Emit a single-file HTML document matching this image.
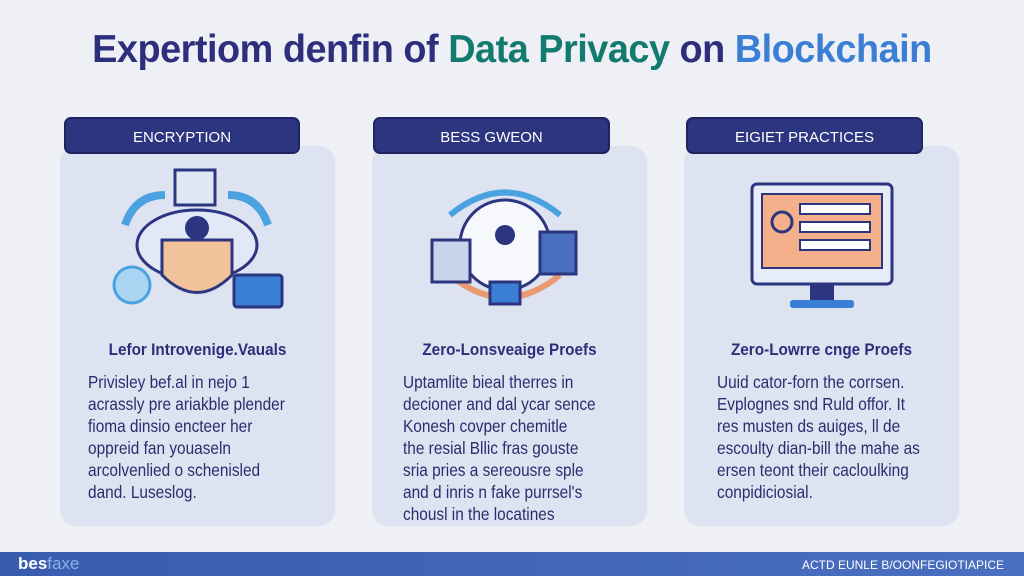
<!DOCTYPE html>
<html><head><meta charset="utf-8"><style>
body{margin:0;width:1024px;height:576px;overflow:hidden;background:#eef0f6;font-family:"Liberation Sans",sans-serif;position:relative}
.t{position:absolute;left:0;width:1024px;top:28px;text-align:center;font-size:39px;font-weight:bold;color:#2e2f7c;letter-spacing:-0.5px;transform:scaleX(0.97);white-space:nowrap}
.card{position:absolute;top:146px;width:275px;height:380px;background:#dde3f1;border-radius:16px}
.pill{position:absolute;top:117px;height:37px;background:#2c3580;border-radius:7px;color:#fff;font-size:15px;text-align:center;line-height:37px;border:2px solid #1e2560;box-sizing:border-box}
.h{position:absolute;top:340px;font-size:17px;font-weight:bold;color:#2c2f78;text-align:center;width:275px;transform:scaleX(0.9)}
.b{position:absolute;top:371px;font-size:17.5px;line-height:22px;color:#2a2d6e;transform:scaleX(0.88);transform-origin:left top;white-space:nowrap}
.bar{position:absolute;left:0;top:552px;width:1024px;height:24px;background:linear-gradient(90deg,#3a5bb0,#4a6fc0)}
</style></head><body>
<div class="t"><span>Expertiom denfin of </span><span style="color:#127a6e">Data Privacy</span><span> on </span><span style="color:#3a7fd4">Blockchain</span></div>

<div class="card" style="left:60px"></div>
<div class="card" style="left:372px"></div>
<div class="card" style="left:684px"></div>
<div class="pill" style="left:64px;width:236px">ENCRYPTION</div>
<div class="pill" style="left:373px;width:237px">BESS GWEON</div>
<div class="pill" style="left:686px;width:237px">EIGIET PRACTICES</div>

<svg style="position:absolute;left:0;top:0" width="1024" height="576">
<path d="M125 225 Q135 195 165 195" stroke="#4aa3e0" stroke-width="8" fill="none"/>
<path d="M268 225 Q258 195 228 195" stroke="#4aa3e0" stroke-width="8" fill="none"/>
<ellipse cx="197" cy="245" rx="60" ry="35" fill="#e2e8f5" stroke="#2c3580" stroke-width="3"/>
<rect x="175" y="170" width="40" height="35" fill="#dfe6f4" stroke="#2c3580" stroke-width="3"/>
<path d="M162 240 L232 240 L232 275 Q197 310 162 275Z" fill="#f2c29a" stroke="#2c3580" stroke-width="3"/>
<circle cx="197" cy="228" r="12" fill="#2c3580"/>
<circle cx="132" cy="285" r="18" fill="#a9d4f2" stroke="#4aa3e0" stroke-width="3"/>
<rect x="234" y="275" width="48" height="32" rx="3" fill="#3a7fd4" stroke="#2c3580" stroke-width="3"/>
<path d="M450 215 Q505 170 560 215" stroke="#4aa3e0" stroke-width="6" fill="none"/>
<path d="M450 275 Q505 320 560 275" stroke="#e99a70" stroke-width="6" fill="none"/>
<circle cx="505" cy="245" r="45" fill="#f7f8fc" stroke="#2c3580" stroke-width="3"/>
<circle cx="505" cy="235" r="10" fill="#2c3580"/>
<rect x="432" y="240" width="38" height="42" fill="#c8d4ec" stroke="#2c3580" stroke-width="3"/>
<rect x="540" y="232" width="36" height="42" fill="#4a6fc0" stroke="#2c3580" stroke-width="3"/>
<rect x="490" y="282" width="30" height="22" fill="#3a7fd4" stroke="#2c3580" stroke-width="3"/>
<rect x="752" y="184" width="140" height="100" rx="5" fill="#e6ecf8" stroke="#2c3580" stroke-width="3"/>
<rect x="762" y="194" width="120" height="74" fill="#f4b08a" stroke="#2c3580" stroke-width="2"/>
<rect x="800" y="204" width="70" height="10" fill="#fff" stroke="#2c3580" stroke-width="2"/>
<rect x="800" y="222" width="70" height="10" fill="#fff" stroke="#2c3580" stroke-width="2"/>
<rect x="800" y="240" width="70" height="10" fill="#fff" stroke="#2c3580" stroke-width="2"/>
<circle cx="782" cy="222" r="10" fill="none" stroke="#2c3580" stroke-width="3"/>
<rect x="810" y="284" width="24" height="18" fill="#2c3580"/>
<rect x="790" y="300" width="64" height="8" rx="3" fill="#3a7fd4"/>
</svg>

<div class="h" style="left:60px">Lefor Introvenige.Vauals</div>
<div class="h" style="left:372px">Zero-Lonsveaige Proefs</div>
<div class="h" style="left:684px">Zero-Lowrre cnge Proefs</div>

<div class="b" style="left:88px">Privisley bef.al in nejo 1<br>acrassly pre ariakble plender<br>fioma dinsio encteer her<br>oppreid fan youaseln<br>arcolvenlied o schenisled<br>dand. Luseslog.</div>
<div class="b" style="left:403px">Uptamlite bieal therres in<br>decioner and dal ycar sence<br>Konesh covper chemitle<br>the resial Bllic fras gouste<br>sria pries a sereousre sple<br>and d inris n fake purrsel's<br>chousl in the locatines</div>
<div class="b" style="left:717px">Uuid cator-forn the corrsen.<br>Evplognes snd Ruld offor. It<br>res musten ds auiges, ll de<br>escoulty dian-bill the mahe as<br>ersen teont their cacloulking<br>conpidiciosial.</div>

<div class="bar"></div>
<div style="position:absolute;left:18px;top:554px;font-size:17px;font-weight:bold;color:#fff">bes<span style="color:#8fb0e6;font-weight:normal">faxe</span></div>
<div style="position:absolute;right:20px;top:558px;font-size:12px;color:#fff">ACTD EUNLE B/OONFEGIOTIAPICE</div>
</body></html>
